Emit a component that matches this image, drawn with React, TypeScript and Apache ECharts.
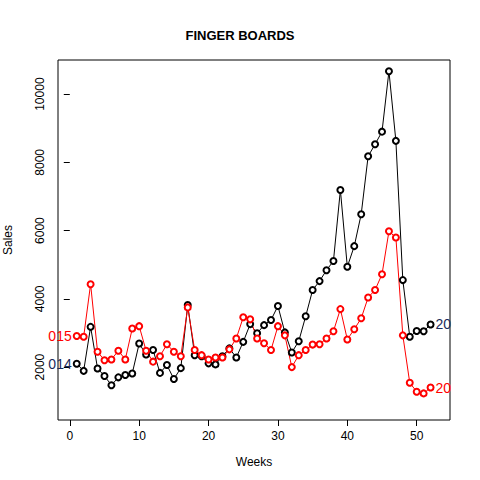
import React, { useEffect, useRef } from 'react';
import * as echarts from 'echarts';

const weeks = Array.from({ length: 52 }, (_, i) => i + 1);
const sales2014 = [
  2100, 1890, 3180, 1960, 1740, 1470, 1700, 1770, 1815, 2690, 2370, 2500, 1830, 2060, 1650, 1970,
  3820, 2350, 2320, 2110, 2080, 2320, 2550, 2280, 2740, 3260, 2990, 3230, 3380, 3790, 3017, 2430,
  2760, 3490, 4260, 4520, 4840, 5110, 7190, 4940, 5545, 6480, 8180, 8530, 8900, 10670, 8630, 4550,
  2890, 3060, 3050, 3250,
];
const sales2015 = [
  2910, 2890, 4430, 2450, 2200, 2225, 2480, 2225, 3130, 3200, 2480, 2160, 2320, 2670, 2450, 2320,
  3750, 2500, 2350, 2225, 2280, 2280, 2520, 2840, 3460, 3400, 2840, 2700, 2500, 3200, 2930, 2000,
  2350, 2500, 2660, 2670, 2840, 3050, 3700, 2810, 3110, 3430, 4040, 4260, 4720, 5980, 5800, 2930,
  1540, 1280, 1230, 1400,
];
const xTicks = [0, 10, 20, 30, 40, 50];
const yTicks = [2000, 4000, 6000, 8000, 10000];

const font = 'Liberation Sans, Arial, sans-serif';

const App: React.FC = () => {
  const chartRef = useRef<HTMLDivElement>(null);

  useEffect(() => {
    if (!chartRef.current) return;
    const chart = echarts.init(chartRef.current, null, { renderer: 'svg' });

    const mkSeries = (name: string, values: number[], color: string, leftText: string, leftColor: string) => ({
      name,
      type: 'line',
      data: values.map((v, i) => {
        const d: any = { value: [weeks[i], v] };
        if (i === 0) {
          d.label = { show: true, position: 'left', formatter: leftText, color: leftColor, fontSize: 14, distance: 1, fontFamily: font };
        }
        if (i === values.length - 1) {
          d.label = { show: true, position: 'right', formatter: '20', color: color === 'red' ? 'red' : '#1a2a5a', fontSize: 14, distance: 1, fontFamily: font };
        }
        return d;
      }),
      symbol: 'emptyCircle',
      symbolSize: 6,
      lineStyle: { color, width: 1 },
      itemStyle: { color, borderColor: color, borderWidth: 0.8 },
    });

    chart.setOption({
      animation: false,
      backgroundColor: '#fff',
      title: {
        text: 'FINGER BOARDS',
        left: 'center',
        top: 24,
        textStyle: { fontFamily: font, fontSize: 13, fontWeight: 'bold', color: '#000' },
      },
      grid: {
        left: 58, right: 30, top: 60, bottom: 60, show: true, borderColor: '#000', borderWidth: 1,
        backgroundColor: 'transparent', containLabel: false, outerBoundsMode: 'none',
      },
      xAxis: {
        type: 'value',
        min: -1.7,
        max: 54.8,
        name: 'Weeks',
        nameLocation: 'middle',
        nameGap: 36,
        nameTextStyle: { fontFamily: font, fontSize: 12, color: '#000' },
        axisLine: { show: false },
        splitLine: { show: false },
        axisTick: { show: true, length: 6, customValues: xTicks, lineStyle: { color: '#000' } },
        axisLabel: { customValues: xTicks, formatter: (v: number) => String(v), fontFamily: font, fontSize: 12, color: '#000', margin: 10 },
      },
      yAxis: {
        type: 'value',
        min: 450,
        max: 11000,
        name: 'Sales',
        nameLocation: 'middle',
        nameGap: 44,
        nameTextStyle: { fontFamily: font, fontSize: 12, color: '#000' },
        axisLine: { show: false },
        splitLine: { show: false },
        axisTick: { show: true, length: 6, customValues: yTicks, lineStyle: { color: '#000' } },
        axisLabel: { customValues: yTicks, formatter: (v: number) => String(v), rotate: 90, fontFamily: font, fontSize: 12, color: '#000', margin: 12 },
      },
      series: [
        mkSeries('2014', sales2014, '#000', '014', '#1a2a5a'),
        mkSeries('2015', sales2015, 'red', '015', 'red'),
      ],
    });

    return () => {
      chart.dispose();
    };
  }, []);

  return <div ref={chartRef} style={{ position: 'fixed', left: 0, top: 0, width: 480, height: 480 }} />;
};

export default App;
